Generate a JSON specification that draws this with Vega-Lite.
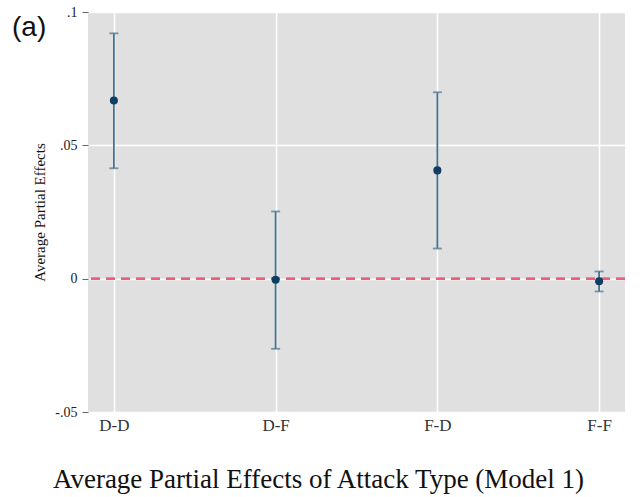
{
  "$schema": "https://vega.github.io/schema/vega-lite/v6.json",
  "autosize": {"type": "none"},
  "width": 537,
  "height": 400,
  "padding": {"left": 88, "top": 12, "right": 17, "bottom": 85},
  "background": "#ffffff",
  "title": {
    "text": "(a)",
    "anchor": "start",
    "frame": "group",
    "orient": "top",
    "offset": -37,
    "dx": -76,
    "font": "Liberation Sans",
    "fontSize": 28,
    "fontWeight": "normal",
    "color": "#111111"
  },
  "config": {
    "view": {"fill": "#e0e0e0", "stroke": null},
    "axis": {"domain": false}
  },
  "data": {
    "values": [
      {"type": "D-D", "ape": 0.0668, "lo": 0.0414, "hi": 0.0920},
      {"type": "D-F", "ape": -0.0004, "lo": -0.0263, "hi": 0.0252},
      {"type": "F-D", "ape": 0.0406, "lo": 0.0113, "hi": 0.0699},
      {"type": "F-F", "ape": -0.0010, "lo": -0.0048, "hi": 0.0027}
    ]
  },
  "encoding": {
    "x": {
      "field": "type",
      "type": "nominal",
      "scale": {"type": "point", "padding": 0.16},
      "axis": {
        "title": "Average Partial Effects of Attack Type (Model 1)",
        "labelAngle": 0,
        "labelFont": "Liberation Serif",
        "labelFontSize": 17,
        "labelColor": "#333333",
        "labelPadding": 5,
        "ticks": false,
        "grid": true,
        "gridColor": "#ffffff",
        "gridWidth": 1.5,
        "titleFont": "Liberation Serif",
        "titleFontSize": 27,
        "titleFontWeight": "normal",
        "titleColor": "#111111",
        "titleAnchor": "start",
        "titleAlign": "center",
        "titleBaseline": "alphabetic",
        "titleX": 230,
        "titleY": 75
      }
    }
  },
  "layer": [
    {
      "mark": {"type": "rule", "color": "#44738f", "strokeWidth": 1.8},
      "encoding": {
        "y": {
          "field": "lo",
          "type": "quantitative",
          "scale": {"domain": [-0.05, 0.1], "nice": false, "zero": false},
          "axis": {
            "title": "Average Partial Effects",
            "titleFont": "Liberation Serif",
            "titleFontSize": 15,
            "titleFontWeight": "normal",
            "titleColor": "#111111",
            "titlePadding": 7,
            "values": [-0.05, 0, 0.05, 0.1],
            "labelExpr": "datum.value == 0 ? '0' : replace(replace(format(datum.value, '.2~f'), '0.', '.'), '\u2212', '-')",
            "labelFont": "Liberation Serif",
            "labelFontSize": 14,
            "labelColor": "#222222",
            "labelPadding": 5,
            "tickColor": "#666666",
            "tickSize": 6,
            "grid": true,
            "gridColor": "#ffffff",
            "gridWidth": 1.5
          }
        },
        "y2": {"field": "hi"}
      }
    },
    {
      "mark": {"type": "rule", "color": "#e8607a", "strokeDash": [9, 6], "strokeWidth": 2},
      "encoding": {"y": {"datum": 0, "type": "quantitative"}, "x": null}
    },
    {
      "mark": {"type": "tick", "orient": "horizontal", "color": "#44738f", "size": 9, "thickness": 1.8},
      "encoding": {"y": {"field": "lo", "type": "quantitative"}}
    },
    {
      "mark": {"type": "tick", "orient": "horizontal", "color": "#44738f", "size": 9, "thickness": 1.8},
      "encoding": {"y": {"field": "hi", "type": "quantitative"}}
    },
    {
      "mark": {"type": "circle", "color": "#0f3d63", "opacity": 1, "size": 65},
      "encoding": {"y": {"field": "ape", "type": "quantitative"}}
    }
  ]
}
